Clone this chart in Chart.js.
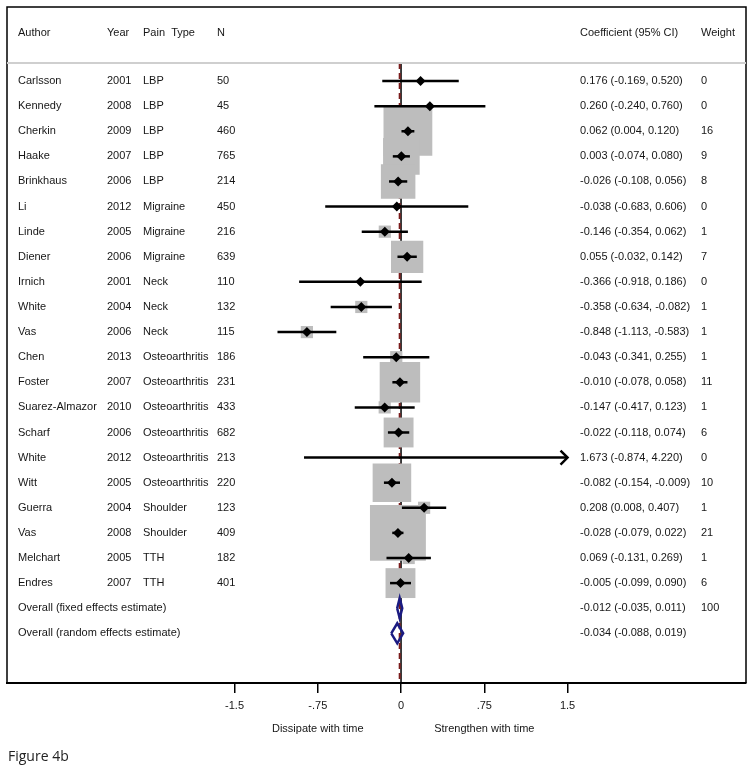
<!DOCTYPE html>
<html>
<head>
<meta charset="utf-8">
<script src="https://cdn.jsdelivr.net/npm/chart.js@4"></script>
<style>
  html, body { margin: 0; padding: 0; background: #fff; }
  canvas { display: block; }
</style>
</head>
<body>
<canvas id="forest" width="754" height="775"></canvas>
<script>
// study data
const authors = ['Carlsson', 'Kennedy', 'Cherkin', 'Haake', 'Brinkhaus', 'Li', 'Linde', 'Diener', 'Irnich', 'White', 'Vas',
  'Chen', 'Foster', 'Suarez-Almazor', 'Scharf', 'White', 'Witt', 'Guerra', 'Vas', 'Melchart', 'Endres'];
const years = [2001, 2008, 2009, 2007, 2006, 2012, 2005, 2006, 2001, 2004, 2006, 2013, 2007, 2010, 2006, 2012, 2005, 2004, 2008, 2005, 2007];
const painTypes = ['LBP', 'LBP', 'LBP', 'LBP', 'LBP', 'Migraine', 'Migraine', 'Migraine', 'Neck', 'Neck', 'Neck',
  'Osteoarthritis', 'Osteoarthritis', 'Osteoarthritis', 'Osteoarthritis', 'Osteoarthritis', 'Osteoarthritis',
  'Shoulder', 'Shoulder', 'TTH', 'TTH'];
const sampleN = [50, 45, 460, 765, 214, 450, 216, 639, 110, 132, 115, 186, 231, 433, 682, 213, 220, 123, 409, 182, 401];
const coef = [0.176, 0.260, 0.062, 0.003, -0.026, -0.038, -0.146, 0.055, -0.366, -0.358, -0.848,
  -0.043, -0.010, -0.147, -0.022, 1.673, -0.082, 0.208, -0.028, 0.069, -0.005];
const ciLow = [-0.169, -0.240, 0.004, -0.074, -0.108, -0.683, -0.354, -0.032, -0.918, -0.634, -1.113,
  -0.341, -0.078, -0.417, -0.118, -0.874, -0.154, 0.008, -0.079, -0.131, -0.099];
const ciHigh = [0.520, 0.760, 0.120, 0.080, 0.056, 0.606, 0.062, 0.142, 0.186, -0.082, -0.583,
  0.255, 0.058, 0.123, 0.074, 4.220, -0.009, 0.407, 0.022, 0.269, 0.090];
const weights = [0, 0, 16, 9, 8, 0, 1, 7, 0, 1, 1, 1, 11, 1, 6, 0, 10, 1, 21, 1, 6];

// pooled estimates
const overallLabels = ['Overall (fixed effects estimate)', 'Overall (random effects estimate)'];
const overallCoef = [-0.012, -0.034];
const overallLow = [-0.035, -0.088];
const overallHigh = [0.011, 0.019];
const overallWeight = ['100', ''];

// axis
const tickValues = [-1.5, -0.75, 0, 0.75, 1.5];
const tickLabels = ['-1.5', '-.75', '0', '.75', '1.5'];
const XLIM = 1.5;

const FONT = '11px "Liberation Sans", Arial, sans-serif';
const TEXT = '#161616';
const nStudies = authors.length;

const fmt = (v) => v.toFixed(3);
const clip = (v) => Math.max(-XLIM, Math.min(XLIM, v));

const datasets = [];

// line of no effect + overall effect line
datasets.push({
  type: 'line', order: 9,
  data: [{ x: 0, y: -0.72 }, { x: 0, y: 24 }],
  borderColor: '#000', borderWidth: 1.5, pointRadius: 0
});
datasets.push({
  type: 'line', order: 8,
  data: [{ x: overallCoef[0], y: -0.72 }, { x: overallCoef[0], y: 24 }],
  borderColor: '#7a1c1c', borderWidth: 2, borderDash: [6, 4], pointRadius: 0
});

// weight boxes
const boxRows = weights.map((w, i) => i).filter(i => weights[i] > 0);
datasets.push({
  type: 'scatter', order: 5,
  data: boxRows.map(i => ({ x: coef[i], y: i })),
  pointStyle: 'rect',
  pointRadius: boxRows.map(i => 12.2 * Math.sqrt(weights[i]) / Math.SQRT2),
  backgroundColor: '#bdbdbd', borderWidth: 0
});

// confidence intervals
coef.forEach((c, i) => {
  datasets.push({
    type: 'line', order: 2,
    data: [{ x: clip(ciLow[i]), y: i }, { x: clip(ciHigh[i]), y: i }],
    borderColor: '#000', borderWidth: 2.5, pointRadius: 0
  });
});

// point estimates
const shown = coef.map((c, i) => i).filter(i => Math.abs(coef[i]) <= XLIM);
datasets.push({
  type: 'scatter', order: 1,
  data: shown.map(i => ({ x: coef[i], y: i })),
  pointStyle: 'rectRot', pointRadius: 5,
  backgroundColor: '#000', borderColor: '#000', borderWidth: 0
});

// pooled diamonds
overallCoef.forEach((c, k) => {
  const y = nStudies + k;
  datasets.push({
    type: 'line', order: 1,
    data: [
      { x: overallLow[k], y: y },
      { x: c, y: y - 0.4 },
      { x: overallHigh[k], y: y },
      { x: c, y: y + 0.4 },
      { x: overallLow[k], y: y }
    ],
    borderColor: '#1b1b82', borderWidth: 2.5, pointRadius: 0, tension: 0, fill: false
  });
});

const tablePlugin = {
  id: 'table',
  afterDatasetsDraw(chart) {
    const { ctx, chartArea: a, scales: { x, y } } = chart;
    ctx.save();

    // arrows for clipped intervals
    ctx.strokeStyle = '#000';
    ctx.lineWidth = 2.5;
    ciHigh.forEach((h, i) => {
      if (h <= XLIM) return;
      const px = x.getPixelForValue(XLIM), py = y.getPixelForValue(i);
      ctx.beginPath();
      ctx.moveTo(px - 7, py - 7);
      ctx.lineTo(px, py);
      ctx.lineTo(px - 7, py + 7);
      ctx.stroke();
    });

    // frame
    ctx.strokeStyle = '#000';
    ctx.lineWidth = 1.5;
    ctx.beginPath();
    ctx.moveTo(a.left, a.bottom);
    ctx.lineTo(a.left, a.top);
    ctx.lineTo(a.right, a.top);
    ctx.lineTo(a.right, a.bottom);
    ctx.stroke();

    // header separator
    const sepY = y.getPixelForValue(-0.72);
    ctx.strokeStyle = '#cfcfcf';
    ctx.lineWidth = 2;
    ctx.beginPath();
    ctx.moveTo(a.left, sepY);
    ctx.lineTo(a.right, sepY);
    ctx.stroke();

    ctx.font = FONT;
    ctx.fillStyle = TEXT;
    ctx.textBaseline = 'middle';
    ctx.textAlign = 'left';

    const hy = y.getPixelForValue(-1.9);
    ctx.fillText('Author', 18, hy);
    ctx.fillText('Year', 107, hy);
    ctx.fillText('Pain  Type', 143, hy);
    ctx.fillText('N', 217, hy);
    ctx.fillText('Coefficient (95% CI)', 580, hy);
    ctx.fillText('Weight', 701, hy);

    authors.forEach((name, i) => {
      const py = y.getPixelForValue(i);
      ctx.fillText(name, 18, py);
      ctx.fillText(String(years[i]), 107, py);
      ctx.fillText(painTypes[i], 143, py);
      ctx.fillText(String(sampleN[i]), 217, py);
      ctx.fillText(fmt(coef[i]) + ' (' + fmt(ciLow[i]) + ', ' + fmt(ciHigh[i]) + ')', 580, py);
      ctx.fillText(String(weights[i]), 701, py);
    });

    overallLabels.forEach((lab, k) => {
      const py = y.getPixelForValue(nStudies + k);
      ctx.fillText(lab, 18, py);
      ctx.fillText(fmt(overallCoef[k]) + ' (' + fmt(overallLow[k]) + ', ' + fmt(overallHigh[k]) + ')', 580, py);
      ctx.fillText(overallWeight[k], 701, py);
    });

    // direction labels
    ctx.textAlign = 'center';
    ctx.fillText('Dissipate with time', x.getPixelForValue(-0.75), 729);
    ctx.fillText('Strengthen with time', x.getPixelForValue(0.75), 729);

    ctx.textAlign = 'left';
    ctx.fillStyle = '#222';
    ctx.font = '14px "Open Sans", "Liberation Sans", sans-serif';
    ctx.fillText('Figure 4b', 8, 757);
    ctx.restore();
  }
};

new Chart(document.getElementById('forest'), {
  type: 'scatter',
  data: { datasets },
  options: {
    responsive: false,
    animation: false,
    layout: { autoPadding: false, padding: { left: 7, right: 8, top: 7, bottom: 0 } },
    plugins: { legend: { display: false }, tooltip: { enabled: false } },
    scales: {
      x: {
        type: 'linear', min: -3.55, max: 3.108,
        afterBuildTicks: (s) => { s.ticks = tickValues.map(v => ({ value: v })); },
        afterFit: (s) => { s.height = 92; },
        ticks: {
          callback: (v, i) => tickLabels[i],
          color: TEXT, padding: 6, maxRotation: 0, autoSkip: false,
          font: { family: '"Liberation Sans", Arial, sans-serif', size: 11 }
        },
        grid: { drawOnChartArea: false, drawTicks: true, tickLength: 10, color: '#000', lineWidth: 1.5 },
        border: { display: true, color: '#000', width: 2 }
      },
      y: { type: 'linear', min: -2.95, max: 23.98, reverse: true, display: false }
    }
  },
  plugins: [tablePlugin]
});
</script>
</body>
</html>
